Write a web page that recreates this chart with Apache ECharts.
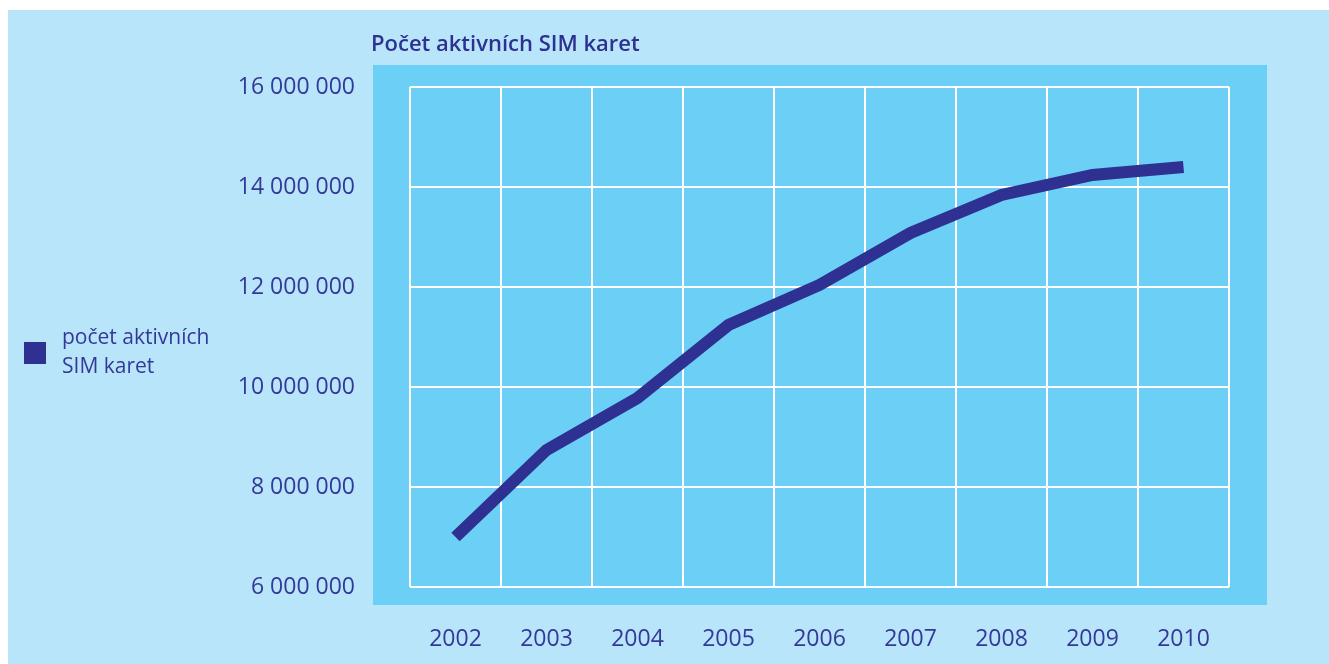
<!DOCTYPE html>
<html>
<head>
<meta charset="utf-8">
<script src="https://cdn.jsdelivr.net/npm/echarts@6/dist/echarts.min.js"></script>
<style>
  html, body { margin: 0; padding: 0; background: #ffffff; }
  #main { position: absolute; left: 8px; top: 10px; width: 1321px; height: 654px; background: #b8e5f9; }
</style>
</head>
<body>
<div id="main"></div>
<script>
  // data
  var years = ['2002', '2003', '2004', '2005', '2006', '2007', '2008', '2009', '2010'];
  var simCards = [7000000, 8740000, 9780000, 11240000, 12040000, 13080000, 13840000, 14240000, 14400000];
  var seriesName = 'počet aktivních\nSIM karet';
  var titleText = 'Počet aktivních SIM karet';

  var textColor = '#2e3192';
  var labelColor = '#34389a';
  var chart = echarts.init(document.getElementById('main'));

  chart.setOption({
    backgroundColor: 'transparent',
    textStyle: { fontFamily: 'Open Sans' },
    title: {
      text: titleText,
      left: 358, top: 19,
      textStyle: { color: textColor, fontSize: 22, fontWeight: 600, fontFamily: 'Open Sans' }
    },
    legend: {
      orient: 'vertical',
      left: 11, top: 309,
      icon: 'rect',
      itemWidth: 22, itemHeight: 22,
      itemGap: 10,
      textStyle: { color: labelColor, fontSize: 21, lineHeight: 29, fontFamily: 'Open Sans', padding: [0, 0, 0, 11] },
      data: [{ name: seriesName }]
    },
    graphic: [{
      type: 'rect',
      z: -10,
      shape: { x: 365, y: 55, width: 894, height: 540 },
      style: { fill: '#6ccff6' },
      silent: true
    }],
    grid: { left: 402, right: 100, top: 77, bottom: 77 },
    xAxis: {
      type: 'category',
      data: years,
      boundaryGap: true,
      axisLine: { show: false },
      axisTick: { show: false },
      axisLabel: { color: labelColor, fontSize: 23, margin: 41 },
      splitLine: { show: true, lineStyle: { color: '#ffffff', width: 2 } }
    },
    yAxis: {
      type: 'value',
      min: 6000000, max: 16000000, interval: 2000000,
      axisLine: { show: false },
      axisTick: { show: false },
      axisLabel: {
        color: labelColor, fontSize: 23, margin: 55,
        formatter: function (v) { return String(v).replace(/\B(?=(\d{3})+(?!\d))/g, ' '); }
      },
      splitLine: { show: true, lineStyle: { color: '#ffffff', width: 2 } }
    },
    series: [{
      name: seriesName,
      type: 'line',
      data: simCards,
      symbol: 'none',
      color: '#2e3192',
      lineStyle: { width: 12, color: '#2e3192', cap: 'butt', join: 'miter' },
      animation: false
    }],
    animation: false
  });
</script>
</body>
</html>
